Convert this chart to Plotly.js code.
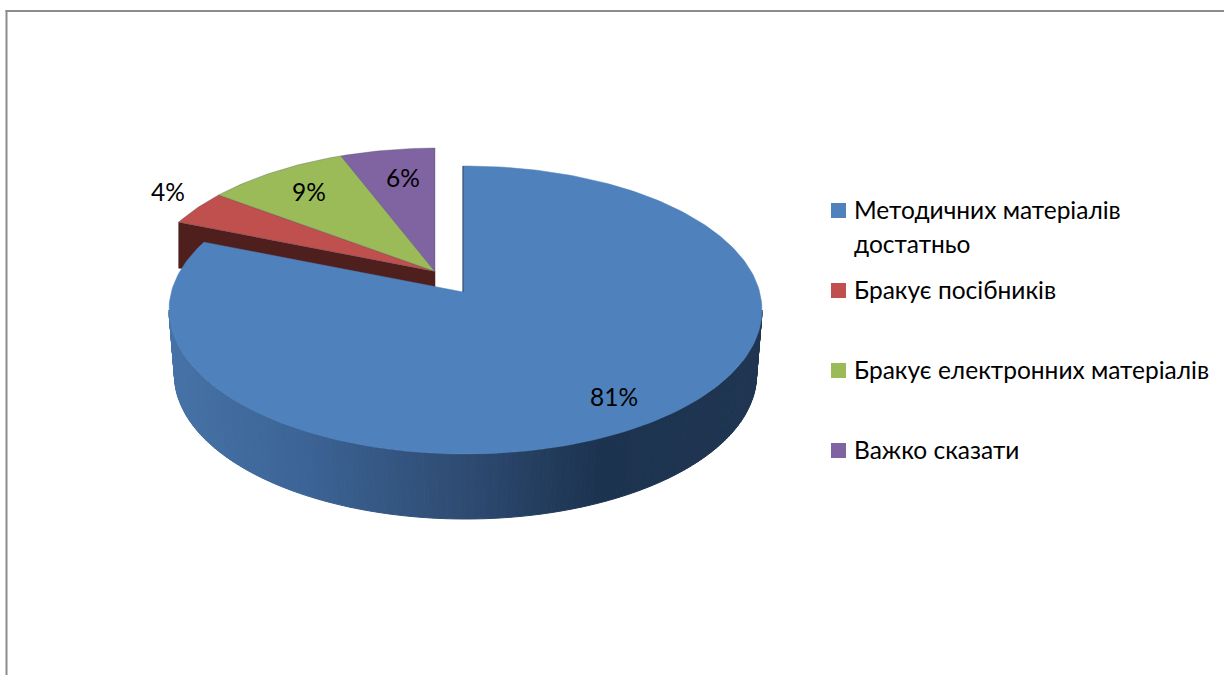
<!DOCTYPE html>
<html><head><meta charset="utf-8">
<script src="https://cdn.plot.ly/plotly-3.0.1.min.js"></script>
<style>html,body{margin:0;padding:0;background:#fff}</style></head>
<body><div id="chart" style="width:1224px;height:675px"></div>
<script>
// Data
const categories = ["Методичних матеріалів достатньо","Бракує посібників","Бракує електронних матеріалів","Важко сказати"];
const legendLines = [["Методичних матеріалів","достатньо"],["Бракує посібників"],["Бракує електронних матеріалів"],["Важко сказати"]];
const values = [81,4,9,6];
const valueLabels = ["81%","4%","9%","6%"];
const colors = ["#4f81bd","#c0504d","#9bbb59","#8064a2"];

// Styling / geometry of the pseudo-3D pie
const FONT = "Lato, Carlito, 'Open Sans', sans-serif";
const FS = 24.5;
const topEll = {cx:465.5, cy:310, rx:296.5, ry:144};
const bottomEll = {cx:465.5, cy:375, rx:291, ry:144};
const apexMain = [463,292];
const shift = [-28,-20.5];
const apexBack = [apexMain[0]+shift[0], apexMain[1]+shift[1]];
const ellBack = {cx:topEll.cx+shift[0], cy:topEll.cy+shift[1]+2.5, rx:topEll.rx-0.5, ry:topEll.ry};
const labelPos = [[614,400],[168,195],[309,195],[403,181]];
const legendX = 838.5, legendY = [210.5,290.5,370.5,450.5], legendTextX = 854, legendLH = 34, legendTextDy = 2;
const wallStops = [[170,[70,114,167]],[300,[60,100,150]],[465,[46,75,114]],[600,[28,51,80]],[765,[31,53,82]]];

const total = values.reduce((a,b)=>a+b,0);

function rimPoint(t, apex, e){
  const dx = e.rx*Math.sin(t), dy = -e.ry*Math.cos(t);
  const ax=(apex[0]-e.cx)/e.rx, ay=(apex[1]-e.cy)/e.ry, ux=dx/e.rx, uy=dy/e.ry;
  const a=ux*ux+uy*uy, b=2*(ax*ux+ay*uy), c=ax*ax+ay*ay-1;
  const s=(-b+Math.sqrt(b*b-4*a*c))/(2*a);
  return [apex[0]+s*dx, apex[1]+s*dy];
}
function sliceTrace(t0,t1,apex,e,color,line){
  const xs=[apex[0]], ys=[apex[1]];
  const n=Math.max(4,Math.ceil((t1-t0)/0.02));
  for(let i=0;i<=n;i++){const p=rimPoint(t0+(t1-t0)*i/n,apex,e);xs.push(p[0]);ys.push(p[1]);}
  xs.push(apex[0]);ys.push(apex[1]);
  return {x:xs,y:ys,mode:"lines",fill:"toself",fillcolor:color,line:line||{color:color,width:0.5},showlegend:false,hoverinfo:"skip"};
}
function wallColor(x){
  for(let i=0;i<wallStops.length-1;i++){
    const [a,ca]=wallStops[i],[b,cb]=wallStops[i+1];
    if(x<=b){const f=Math.max(0,(x-a)/(b-a));
      return "rgb("+ca.map((v,k)=>Math.round(v+(cb[k]-v)*f)).join(",")+")";}
  }
  return "rgb("+wallStops[wallStops.length-1][1].join(",")+")";
}

// Slice angles, clockwise from 12 o'clock
const angles=[0]; values.forEach(v=>angles.push(angles[angles.length-1]+v/total*2*Math.PI));

const traces=[];
// Dark inner wall of the back group
const redEnd=rimPoint(angles[1],apexBack,ellBack);
traces.push({x:[redEnd[0],apexBack[0],apexBack[0],redEnd[0],redEnd[0]],
  y:[redEnd[1],apexBack[1],apexBack[1]+15.5,redEnd[1]+46,redEnd[1]],
  mode:"lines",fill:"toself",fillcolor:"#4f1f1e",line:{color:"#4f1f1e",width:0.5},showlegend:false,hoverinfo:"skip"});
// Back slices
for(let i=1;i<values.length;i++){
  traces.push(sliceTrace(angles[i],angles[i+1],apexBack,ellBack,colors[i],{color:"rgba(70,70,90,0.55)",width:0.6}));
}
// Blue outer wall as gradient strips
const STRIPS=200;
for(let i=0;i<STRIPS;i++){
  const a0=Math.PI/2+Math.PI*i/STRIPS, a1=Math.PI/2+Math.PI*(i+1)/STRIPS;
  const P=(e,a)=>[e.cx+e.rx*Math.sin(a),e.cy-e.ry*Math.cos(a)];
  const p1=P(topEll,a0),p2=P(topEll,a1),p3=P(bottomEll,a1),p4=P(bottomEll,a0);
  const c=wallColor((p1[0]+p2[0])/2);
  traces.push({x:[p1[0],p2[0],p3[0],p4[0],p1[0]],y:[p1[1],p2[1],p3[1],p4[1],p1[1]],
    mode:"lines",fill:"toself",fillcolor:c,line:{color:c,width:1},showlegend:false,hoverinfo:"skip"});
}
// Blue top
traces.push(sliceTrace(angles[0],angles[1],apexMain,topEll,colors[0]));
// Thin dark visible cut face
const blueStart=rimPoint(0,apexMain,topEll);
traces.push({x:[blueStart[0],apexMain[0]],y:[blueStart[1],apexMain[1]],mode:"lines",line:{color:"#2a4565",width:1},showlegend:false,hoverinfo:"skip"});
// Value labels
traces.push({x:labelPos.map(p=>p[0]),y:labelPos.map(p=>p[1]),text:valueLabels,mode:"text",textposition:"middle center",
  textfont:{family:FONT,size:FS,color:"#000"},showlegend:false,hoverinfo:"skip",cliponaxis:false});
// Legend squares
traces.push({x:legendY.map(()=>legendX),y:legendY,mode:"markers",marker:{symbol:"square",size:15,color:colors,line:{width:0}},showlegend:false,hoverinfo:"skip"});
// Legend text
const lx=[],ly=[],lt=[];
legendLines.forEach((ls,i)=>ls.forEach((s,j)=>{lx.push(legendTextX);ly.push(legendY[i]+legendTextDy+j*legendLH);lt.push(s);}));
traces.push({x:lx,y:ly,text:lt,mode:"text",textposition:"middle right",textfont:{family:FONT,size:FS,color:"#000"},showlegend:false,hoverinfo:"skip",cliponaxis:false});

const layout={
  width:1224,height:675,margin:{l:0,r:0,t:0,b:0},paper_bgcolor:"#fff",plot_bgcolor:"#fff",showlegend:false,
  xaxis:{range:[0,1224],visible:false,fixedrange:true},
  yaxis:{range:[675,0],visible:false,fixedrange:true},
  shapes:[
    {type:"line",xref:"x",yref:"y",x0:6.5,x1:6.5,y0:10,y1:675,line:{color:"#8c8c8c",width:2}},
    {type:"line",xref:"x",yref:"y",x0:5.5,x1:1224,y0:11,y1:11,line:{color:"#8c8c8c",width:2}}
  ]
};
Plotly.newPlot("chart",traces,layout,{displayModeBar:false,staticPlot:true});
</script></body></html>
